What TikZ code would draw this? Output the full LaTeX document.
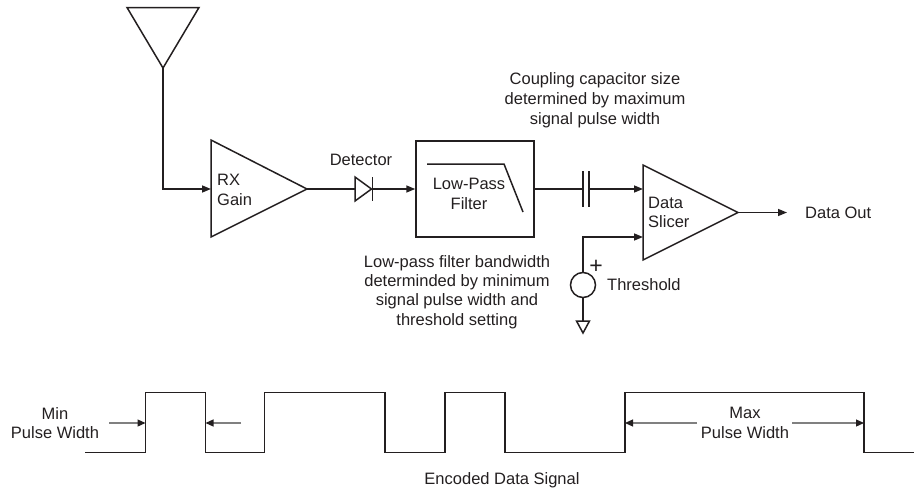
\documentclass[tikz,border=0pt]{standalone}
\usepackage{fontspec}
\setmainfont{Liberation Sans}
\usetikzlibrary{arrows.meta}
\definecolor{ink}{RGB}{35,31,32}
\definecolor{dimgray}{RGB}{128,128,128}
\begin{document}
\begin{tikzpicture}[x=1pt,y=-1pt,
  wire/.style={line width=1.5pt, draw=ink},
  sig/.style={wire,-{Triangle[length=9pt,width=7pt]}},
  dimarrow/.style={line width=1.2pt, draw=dimgray, -{Triangle[length=8pt,width=7pt,color=ink,fill=ink]}},
  lbl/.style={font=\fontsize{16.5}{19.8}\selectfont, text=ink, inner sep=0pt, align=center}]
\useasboundingbox (0,0) rectangle (914,493);

% antenna
\coordinate (antL) at (127,7.5);
\coordinate (antR) at (199,7.5);
\coordinate (antT) at (163,68);
\draw[wire, line join=miter] (antL) -- (antR) -- (antT) -- cycle;

% RX gain amplifier
\coordinate (rxIn) at (211,189);
\coordinate (rxTop) at (211,140);
\coordinate (rxBot) at (211,237);
\coordinate (rxOut) at (307,189);
\draw[wire, line join=miter] (rxTop) -- (rxOut) -- (rxBot) -- cycle;
\node[lbl, align=left, anchor=west] (rxlbl) at (217,190) {RX\\Gain};
\draw[sig] (antT) |- (rxIn);

% detector diode
\coordinate (dA) at (355,189);
\coordinate (dK) at (372.5,189);
\draw[wire] (rxOut) -- (dA);
\draw[wire, line join=miter] (355,177) -- (371.5,189) -- (355,201) -- cycle;
\draw[wire] (372.5,177) -- (372.5,201);
\node[lbl] (detlbl) at (361,160) {Detector};

% low-pass filter
\node[wire, draw, minimum width=118pt, minimum height=96pt, inner sep=0pt] (lpf) at (475,189) {};
\draw[sig] (dK) -- (lpf.west);
\draw[wire] (427,164) -- (504,164) -- (523,212);
\node[lbl] (lpflbl) at (469,194) {Low-Pass\\Filter};

% coupling capacitor
\coordinate (cA) at (583,189);
\coordinate (cB) at (589,189);
\draw[wire] (lpf.east) -- (cA);
\draw[wire] (583,171) -- (583,207);
\draw[wire] (589,171) -- (589,207);

% data slicer
\coordinate (slTop) at (643,165);
\coordinate (slBot) at (643,260);
\coordinate (slOut) at (738,212.5);
\coordinate (slIn1) at (643,189);
\coordinate (slIn2) at (643,237);
\draw[wire, line join=miter] (slTop) -- (slOut) -- (slBot) -- cycle;
\node[lbl, align=left, anchor=west] (sllbl) at (648,212.5) {Data\\Slicer};
\draw[sig] (cB) -- (slIn1);

% threshold source
\node[wire, draw, circle, minimum size=25pt, inner sep=0pt] (vs) at (583,285) {};
\draw[sig] (vs.north) |- (slIn2);
\node[lbl, font=\fontsize{23}{23}\selectfont] (plus) at (596,267) {+};
\node[lbl, anchor=west] (thlbl) at (607,285) {Threshold};
\coordinate (gnd) at (583,321);
\draw[wire] (vs.south) -- (gnd);
\draw[wire, line join=miter] (576.5,321) -- (589.5,321) -- (583,333) -- cycle;

% output
\coordinate (outEnd) at (787,212.5);
\draw[sig] (slOut) -- (outEnd);
\node[lbl, anchor=west] (outlbl) at (805,213) {Data Out};

% annotations
\node[lbl] (capnote) at (595,100) {Coupling capacitor size\\determined by maximum\\signal pulse width};
\node[lbl, font=\fontsize{16.5}{19.3}\selectfont] (lpfnote) at (457,292) {Low-pass filter bandwidth\\determinded by minimum\\signal pulse width and\\threshold setting};

% encoded data waveform
\coordinate (w0) at (85,452.5);
\coordinate (r1) at (145.5,452.5);
\coordinate (f1) at (205.5,392.5);
\draw[wire, line join=miter] (w0) -- (r1) -- (145.5,392.5) -- (f1) -- (205.5,452.5)
  -- (264.5,452.5) -- (264.5,392.5) -- (385,392.5) -- (385,452.5)
  -- (445,452.5) -- (445,392.5) -- (505,392.5) -- (505,452.5)
  -- (625,452.5) -- (625,392.5) -- (864,392.5) -- (864,452.5) -- (914,452.5);

\coordinate (minR) at (145.5,423);
\coordinate (minF) at (205.5,423);
\coordinate (minA) at (109,423);
\coordinate (minB) at (241,423);
\draw[dimarrow] (minA) -- (minR);
\draw[dimarrow] (minB) -- (minF);
\node[lbl] (minlbl) at (55,423) {Min\\Pulse Width};

\coordinate (maxR) at (625,423);
\coordinate (maxF) at (864,423);
\coordinate (maxA) at (697,423);
\coordinate (maxB) at (792,423);
\draw[dimarrow] (maxA) -- (maxR);
\draw[dimarrow] (maxB) -- (maxF);
\node[lbl] (maxlbl) at (745,423) {Max\\Pulse Width};

\node[lbl] (enclbl) at (502,480) {Encoded Data Signal};
\end{tikzpicture}
\end{document}
